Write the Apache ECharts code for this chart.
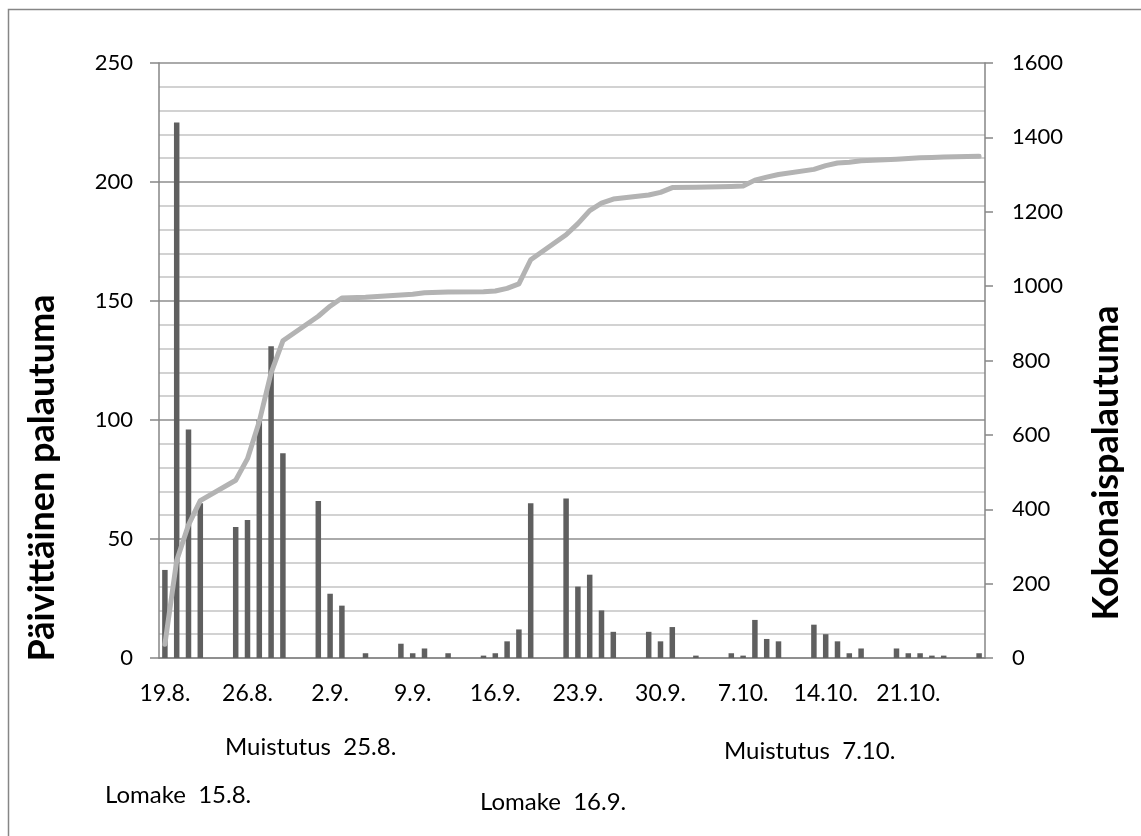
<!DOCTYPE html>
<html>
<head>
<meta charset="utf-8">
<script src="https://cdn.jsdelivr.net/npm/echarts@6/dist/echarts.min.js"></script>
<style>
  html, body { margin: 0; padding: 0; background: #fff; }
  #chart { width: 1141px; height: 836px; }
</style>
</head>
<body>
<div id="chart"></div>
<script>
// päivät 19.8. - 27.10.
var days = [
  '19.8.', '20.8.', '21.8.', '22.8.', '23.8.', '24.8.', '25.8.', '26.8.', '27.8.', '28.8.',
  '29.8.', '30.8.', '31.8.', '1.9.', '2.9.', '3.9.', '4.9.', '5.9.', '6.9.', '7.9.',
  '8.9.', '9.9.', '10.9.', '11.9.', '12.9.', '13.9.', '14.9.', '15.9.', '16.9.', '17.9.',
  '18.9.', '19.9.', '20.9.', '21.9.', '22.9.', '23.9.', '24.9.', '25.9.', '26.9.', '27.9.',
  '28.9.', '29.9.', '30.9.', '1.10.', '2.10.', '3.10.', '4.10.', '5.10.', '6.10.', '7.10.',
  '8.10.', '9.10.', '10.10.', '11.10.', '12.10.', '13.10.', '14.10.', '15.10.', '16.10.', '17.10.',
  '18.10.', '19.10.', '20.10.', '21.10.', '22.10.', '23.10.', '24.10.', '25.10.', '26.10.', '27.10.'
];

// päivittäinen palautuma
var daily = [
  37, 225, 96, 65, null, null, 55, 58, 100, 131,
  86, null, null, 66, 27, 22, null, 2, null, null,
  6, 2, 4, null, 2, null, null, 1, 2, 7,
  12, 65, null, null, 67, 30, 35, 20, 11, null,
  null, 11, 7, 13, null, 1, null, null, 2, 1,
  16, 8, 7, null, null, 14, 10, 7, 2, 4,
  null, null, 4, 2, 2, 1, 1, null, null, 2
];

// kokonaispalautuma (viiva)
var total = [
  37, 262, 358, 423, null, null, 478, 536, 636, 767,
  853, null, null, 919, 946, 968, null, 970, null, null,
  976, 978, 982, null, 984, null, null, 985, 987, 994,
  1006, 1071, null, null, 1138, 1168, 1203, 1223, 1234, null,
  null, 1245, 1252, 1265, null, 1266, null, null, 1268, 1269,
  1285, 1293, 1300, null, null, 1314, 1324, 1331, 1333, 1337,
  null, null, 1341, 1343, 1345, 1346, 1347, null, null, 1349
];

var notes = [
  { text: 'Muistutus  25.8.', x: 225, y: 747 },
  { text: 'Muistutus  7.10.', x: 724, y: 751 },
  { text: 'Lomake  15.8.', x: 105, y: 795 },
  { text: 'Lomake  16.9.', x: 480, y: 802 }
];

var font = 'Lato, "Open Sans", sans-serif';
var axisGray = '#868686';

var chart = echarts.init(document.getElementById('chart'));

var graphics = [{
  type: 'rect',
  shape: { x: 8.5, y: 9.5, width: 1140, height: 840 },
  style: { fill: 'none', stroke: axisGray, lineWidth: 1.5 },
  silent: true
}, {
  type: 'text',
  x: 42, y: 478,
  rotation: Math.PI / 2,
  style: { text: 'Päivittäinen palautuma', font: 'bold 36px ' + font, fill: '#000', textAlign: 'center', textVerticalAlign: 'middle' }
}, {
  type: 'text',
  x: 1106, y: 463,
  rotation: Math.PI / 2,
  style: { text: 'Kokonaispalautuma', font: 'bold 36px ' + font, fill: '#000', textAlign: 'center', textVerticalAlign: 'middle' }
}];
notes.forEach(function (n) {
  graphics.push({
    type: 'text',
    x: n.x, y: n.y,
    style: { text: n.text, font: '24px ' + font, fill: '#000', textAlign: 'left', textVerticalAlign: 'middle' }
  });
});

chart.setOption({
  animation: false,
  backgroundColor: '#fff',
  grid: { left: 159, right: 156, top: 63, bottom: 178 },
  xAxis: {
    type: 'category',
    data: days,
    boundaryGap: true,
    axisLine: { lineStyle: { color: axisGray, width: 1.5 } },
    axisTick: { interval: 6, length: 8, lineStyle: { color: axisGray, width: 1.5 } },
    axisLabel: { interval: 6, margin: 24, color: '#000', fontFamily: font, fontSize: 23 }
  },
  yAxis: [{
    type: 'value',
    min: 0, max: 250, interval: 50,
    axisLine: { show: true, lineStyle: { color: axisGray, width: 1.5 } },
    axisTick: { show: true, length: 9, lineStyle: { color: axisGray, width: 1.5 } },
    axisLabel: { margin: 26, color: '#000', fontFamily: font, fontSize: 22 },
    splitLine: { lineStyle: { color: '#8e8e8e', width: 1.5 } },
    minorTick: { show: false, splitNumber: 5 },
    minorSplitLine: { show: true, lineStyle: { color: '#c4c4c4', width: 1.5 } }
  }, {
    type: 'value',
    min: 0, max: 1600, interval: 200,
    axisLine: { show: true, lineStyle: { color: axisGray, width: 1.5 } },
    axisTick: { show: true, length: 8, lineStyle: { color: axisGray, width: 1.5 } },
    axisLabel: { margin: 27, color: '#000', fontFamily: font, fontSize: 22, formatter: function (v) { return String(v); } },
    splitLine: { show: false }
  }],
  series: [{
    name: 'Päivittäinen palautuma',
    type: 'bar',
    data: daily,
    barWidth: 5.5,
    itemStyle: { color: '#5f5f5f' }
  }, {
    name: 'Kokonaispalautuma',
    type: 'line',
    yAxisIndex: 1,
    data: total,
    connectNulls: true,
    showSymbol: false,
    symbol: 'none',
    z: 5,
    lineStyle: { color: '#b3b3b3', width: 5, cap: 'round', join: 'round' }
  }],
  graphic: graphics
});
</script>
</body>
</html>
